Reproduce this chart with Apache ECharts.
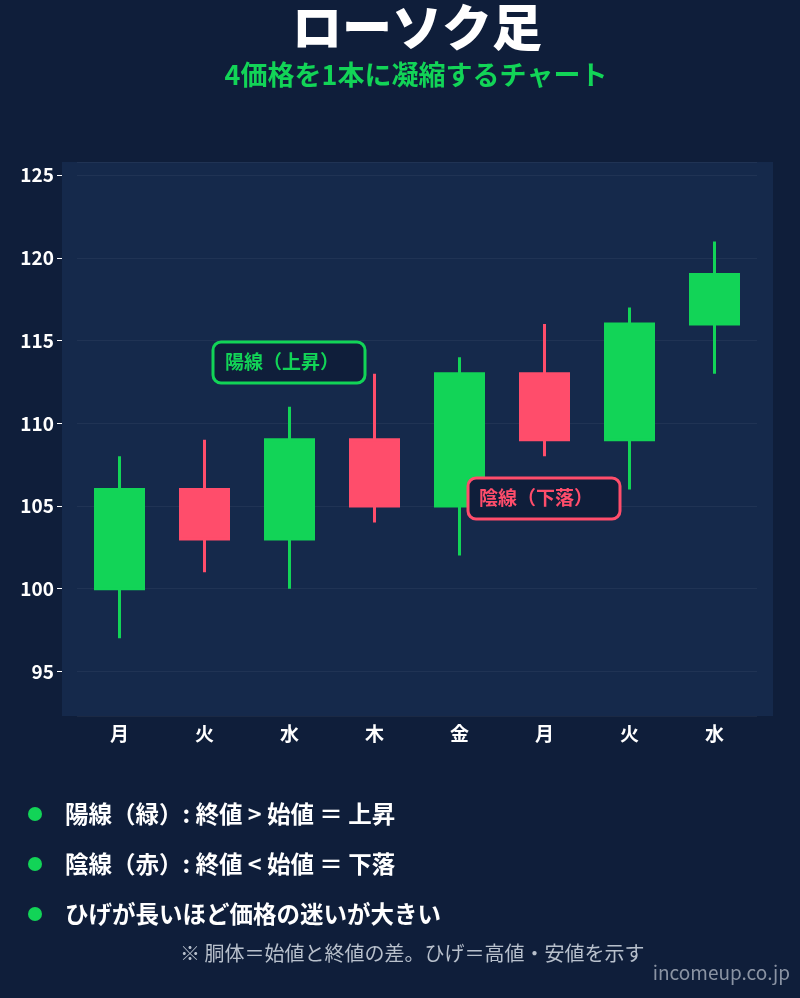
<!DOCTYPE html>
<html><head><meta charset="utf-8">
<script src="https://cdn.jsdelivr.net/npm/echarts@6/dist/echarts.min.js"></script>
<style>html,body{margin:0;background:#0f1e3a}#c{width:800px;height:998px}</style>
</head><body><div id="c"></div>
<script>
// 曜日ごとの 始値・終値・安値・高値
const days = ['月', '火', '水', '木', '金', '月', '火', '水'];
const opens = [100, 106, 103, 109, 105, 113, 109, 116];
const closes = [106, 103, 109, 105, 113, 109, 116, 119];
const lows = [97, 101, 100, 104, 102, 108, 106, 113];
const highs = [108, 109, 111, 113, 114, 116, 117, 121];
const notes = [
  '陽線（緑）: 終値 > 始値 ＝ 上昇',
  '陰線（赤）: 終値 < 始値 ＝ 下落',
  'ひげが長いほど価格の迷いが大きい'
];

const GREEN = '#12d457', RED = '#ff4d6b';
const FONT = '"Noto Sans CJK JP", "Noto Sans", sans-serif';

const chart = echarts.init(document.getElementById('c'));
const ohlc = days.map((d, i) => [opens[i], closes[i], lows[i], highs[i]]);

const graphics = [
  { type: 'rect', z: -1, shape: { x: 62, y: 162, width: 711, height: 554 }, style: { fill: '#15294b' } },
  { type: 'text', x: 417, y: 2, style: { text: 'ローソク足', fill: '#fff', font: '900 50px ' + FONT, textAlign: 'center' } },
  { type: 'text', x: 416, y: 61, style: { text: '4価格を1本に凝縮するチャート', fill: GREEN, font: 'bold 27px ' + FONT, textAlign: 'center' } },
  { type: 'rect', z: 100, shape: { x: 213, y: 342, width: 152, height: 41, r: 8 }, style: { fill: '#0f1e3a', stroke: GREEN, lineWidth: 3 } },
  { type: 'text', z: 101, x: 225, y: 362, style: { text: '陽線（上昇）', fill: GREEN, font: 'bold 19px ' + FONT, verticalAlign: 'middle' } },
  { type: 'rect', z: 100, shape: { x: 468, y: 478, width: 152, height: 41, r: 8 }, style: { fill: '#0f1e3a', stroke: RED, lineWidth: 3 } },
  { type: 'text', z: 101, x: 479, y: 498, style: { text: '陰線（下落）', fill: RED, font: 'bold 19px ' + FONT, verticalAlign: 'middle' } },
  { type: 'text', x: 180, y: 953, style: { text: '※ 胴体＝始値と終値の差。ひげ＝高値・安値を示す', fill: '#b8c0cc', font: '20px ' + FONT, verticalAlign: 'middle' } },
  { type: 'text', right: 10, top: 963, style: { text: 'incomeup.co.jp', fill: '#8a93a3', font: '19px ' + FONT } }
];
notes.forEach((t, i) => {
  graphics.push({ type: 'circle', shape: { cx: 35, cy: 814 + i * 50, r: 7 }, style: { fill: GREEN } });
  graphics.push({ type: 'text', x: 65, y: 814 + i * 50, style: { text: t, fill: '#fff', font: 'bold 23.5px ' + FONT, verticalAlign: 'middle' } });
});

chart.setOption({
  backgroundColor: '#0f1e3a',
  animation: false,
  grid: { left: 77, width: 680, top: 162, bottom: 282 },
  xAxis: {
    type: 'category', data: days,
    axisLine: { show: false }, axisTick: { show: false },
    axisLabel: { color: '#fff', fontSize: 19, fontWeight: 'bold', fontFamily: FONT, margin: 8 }
  },
  yAxis: {
    type: 'value', min: 92.3, max: 125.8, splitNumber: 6, offset: 15,
    axisLine: { show: false },
    axisTick: { show: true, length: 5, lineStyle: { color: '#fff' } },
    splitLine: { lineStyle: { color: 'rgba(255,255,255,0.05)' } },
    axisLabel: {
      color: '#fff', fontSize: 19, fontWeight: 'bold', fontFamily: FONT, margin: 8,
      showMinLabel: false, showMaxLabel: false
    }
  },
  series: [{
    type: 'candlestick', data: ohlc, barWidth: 48,
    itemStyle: { color: GREEN, color0: RED, borderColor: GREEN, borderColor0: RED, borderWidth: 3 }
  }],
  graphic: graphics
});
</script>
</body></html>
